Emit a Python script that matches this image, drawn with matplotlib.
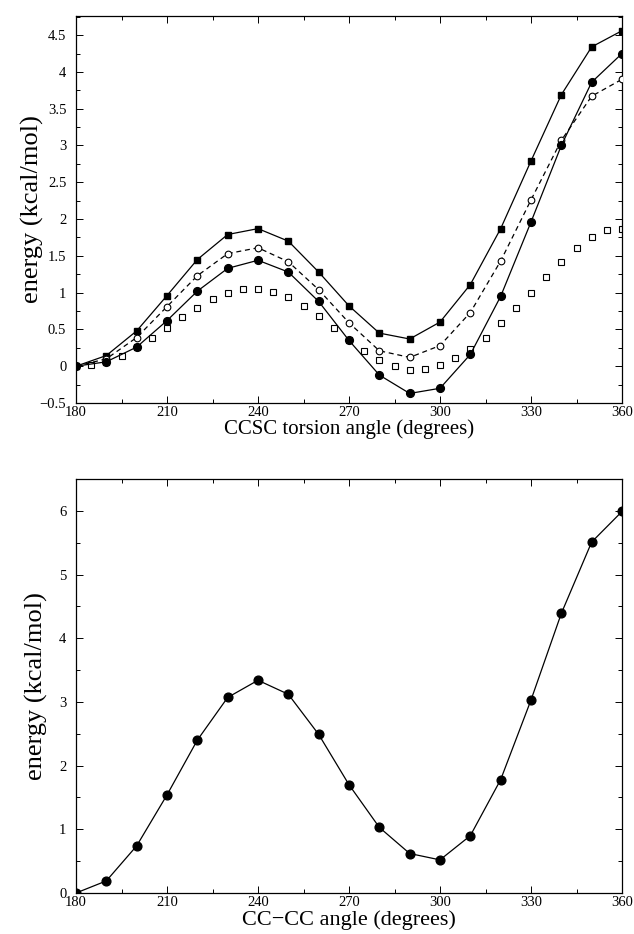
import matplotlib
matplotlib.use("Agg")
import matplotlib.pyplot as plt
from matplotlib.ticker import MultipleLocator

plt.rcParams['font.family'] = ['Liberation Serif', 'DejaVu Serif']

# ---- top panel data ----
angles10 = [180, 190, 200, 210, 220, 230, 240, 250, 260, 270, 280, 290, 300,
            310, 320, 330, 340, 350, 360]
filled_sq = [0.0, 0.145, 0.48, 0.96, 1.45, 1.79, 1.87, 1.70, 1.28, 0.82, 0.45,
             0.37, 0.60, 1.11, 1.87, 2.79, 3.69, 4.34, 4.56]
open_circ = [0.0, 0.10, 0.39, 0.81, 1.23, 1.53, 1.61, 1.42, 1.04, 0.59, 0.21,
             0.12, 0.28, 0.73, 1.43, 2.26, 3.07, 3.67, 3.90]
filled_circ = [0.0, 0.06, 0.26, 0.62, 1.02, 1.33, 1.44, 1.28, 0.88, 0.35, -0.12,
               -0.37, -0.30, 0.16, 0.95, 1.96, 3.00, 3.86, 4.25]
angles5 = [180, 185, 190, 195, 200, 205, 210, 215, 220, 225, 230, 235, 240, 245,
           250, 255, 260, 265, 270, 275, 280, 285, 290, 295, 300, 305, 310, 315,
           320, 325, 330, 335, 340, 345, 350, 355, 360]
open_sq = [0.0, 0.01, 0.06, 0.145, 0.26, 0.38, 0.52, 0.67, 0.79, 0.91, 0.99,
           1.05, 1.05, 1.01, 0.94, 0.82, 0.68, 0.52, 0.36, 0.20, 0.08, 0.0,
           -0.05, -0.04, 0.02, 0.11, 0.24, 0.39, 0.585, 0.79, 1.00, 1.21, 1.41,
           1.61, 1.75, 1.85, 1.87]

# ---- bottom panel data ----
cc_energy = [0.0, 0.19, 0.74, 1.54, 2.40, 3.07, 3.34, 3.12, 2.49, 1.70, 1.03,
             0.62, 0.52, 0.90, 1.78, 3.03, 4.39, 5.51, 5.99]

xticks = [180, 210, 240, 270, 300, 330, 360]
yticks_top = [-0.5, 0, 0.5, 1, 1.5, 2, 2.5, 3, 3.5, 4, 4.5]

fig = plt.figure(figsize=(6.34, 9.34), dpi=100)
W, H = 634, 934
ax1 = fig.add_axes([76 / W, 1 - 403 / H, 546 / W, (403 - 16) / H])
ax2 = fig.add_axes([76 / W, 1 - 893 / H, 546 / W, (893 - 479) / H])

lw = 0.9
ax1.plot(angles10, filled_sq, '-', color='black', lw=lw, marker='s', ms=4.6,
         mfc='black', mec='black', zorder=3)
ax1.plot(angles10, open_circ, '--', color='black', lw=lw, dashes=(4, 3),
         marker='o', ms=4.8, mfc='white', mec='black', mew=0.8, zorder=3)
ax1.plot(angles10, filled_circ, '-', color='black', lw=lw, marker='o', ms=5.6,
         mfc='black', mec='black', zorder=4)
ax1.plot(angles5, open_sq, linestyle='none', marker='s', ms=4.0, mfc='white',
         mec='black', mew=0.8, zorder=2)

ax1.set_xlim(180, 360)
ax1.set_ylim(-0.5, 4.76)
ax1.set_xticks(xticks)
ax1.xaxis.set_minor_locator(MultipleLocator(15))
ax1.set_yticks(yticks_top)
ax1.set_yticklabels(['\u22120.5' if v == -0.5 else ('%g' % v) for v in yticks_top])
ax1.yaxis.set_minor_locator(MultipleLocator(0.25))
ax1.set_xlabel('CCSC torsion angle (degrees)', fontsize=15, labelpad=0)
ax1.set_ylabel('energy (kcal/mol)', fontsize=19, labelpad=-3)

ax2.plot(angles10, cc_energy, '-', color='black', lw=lw, marker='o', ms=6.3,
         mfc='black', mec='black')
ax2.set_xlim(180, 360)
ax2.set_ylim(0, 6.5)
ax2.set_xticks(xticks)
ax2.xaxis.set_minor_locator(MultipleLocator(15))
ax2.yaxis.set_major_locator(MultipleLocator(1))
ax2.yaxis.set_minor_locator(MultipleLocator(0.5))
ax2.set_xlabel('CC\u2212CC angle (degrees)', fontsize=16, labelpad=1)
ax2.set_ylabel('energy (kcal/mol)', fontsize=19, labelpad=8)

for ax in (ax1, ax2):
    ax.tick_params(which='both', direction='in', top=True, right=True,
                   labelsize=10.5, width=0.7)
    ax.tick_params(axis='x', pad=2)
    ax.tick_params(axis='y', pad=7)
    ax.tick_params(which='major', length=5)
    ax.tick_params(which='minor', length=3)
    for s in ax.spines.values():
        s.set_linewidth(0.9)

fig.savefig('out.png', dpi=100)
